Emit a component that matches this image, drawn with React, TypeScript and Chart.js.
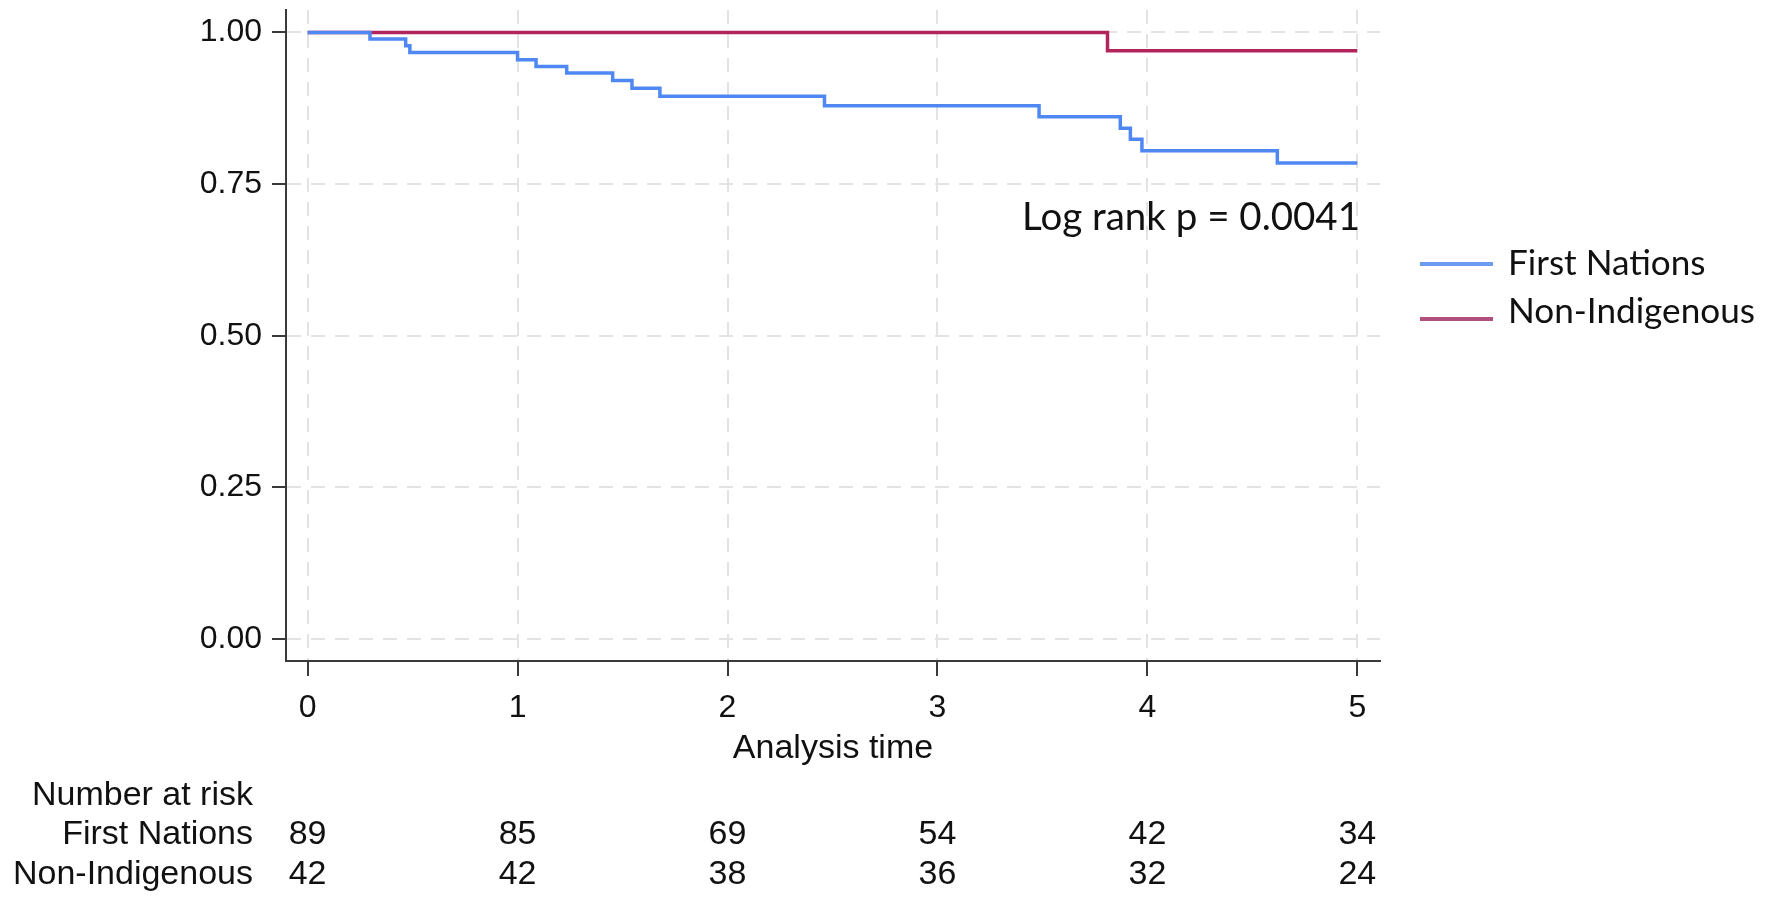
import React, { useEffect, useRef } from "react";
import { Chart, registerables } from "chart.js";

Chart.register(...registerables);

const SERIES_NAMES = ["First Nations", "Non-Indigenous"];
const SERIES_COLORS = ["#4f88f2", "#b2245c"];
const LEGEND_COLORS = ["#6b9cf2", "#b24f7c"];

const FN_TIMES = [0, 0.297, 0.467, 0.487, 1.0, 1.088, 1.234, 1.453, 1.545, 1.678, 2.462, 3.484, 3.871, 3.919, 3.974, 4.619, 5.0];
const FN_SURV = [1.0, 0.989, 0.978, 0.967, 0.955, 0.944, 0.933, 0.921, 0.908, 0.895, 0.879, 0.861, 0.842, 0.824, 0.805, 0.785, 0.785];
const NI_TIMES = [0, 3.81, 5.0];
const NI_SURV = [1.0, 0.97, 0.97];

const X_TICKS = [0, 1, 2, 3, 4, 5];
const Y_TICKS = [0, 0.25, 0.5, 0.75, 1.0];

const RISK_TITLE = "Number at risk";
const RISK_FN = [89, 85, 69, 54, 42, 34];
const RISK_NI = [42, 42, 38, 36, 32, 24];

const X_TITLE = "Analysis time";
const ANNOTATION = "Log rank p = 0.0041";

const ARIAL = '"Liberation Sans", Arial, Helvetica, sans-serif';
const CALIBRI = 'Lato, "Open Sans", "Noto Sans", sans-serif';

function fitFont(ctx: CanvasRenderingContext2D, text: string, width: number, family: string) {
  ctx.font = `100px ${family}`;
  const w = ctx.measureText(text).width;
  return (100 * width) / w;
}

const overlayPlugin = {
  id: "overlay",
  afterDraw(chart: any) {
    const ctx: CanvasRenderingContext2D = chart.ctx;
    const xs = chart.scales.x;
    ctx.save();
    ctx.fillStyle = "#111";
    ctx.textBaseline = "alphabetic";

    // number at risk table
    ctx.font = `34px ${ARIAL}`;
    ctx.textAlign = "right";
    ctx.fillText(RISK_TITLE, 253, 805);
    ctx.fillText(SERIES_NAMES[0], 253, 844);
    ctx.fillText(SERIES_NAMES[1], 253, 884);
    ctx.textAlign = "center";
    X_TICKS.forEach((t, i) => {
      const px = xs.getPixelForValue(t);
      ctx.fillText(String(RISK_FN[i]), px, 844);
      ctx.fillText(String(RISK_NI[i]), px, 884);
    });

    // log-rank annotation
    const annSize = fitFont(ctx, ANNOTATION, 338, CALIBRI);
    ctx.font = `${annSize}px ${CALIBRI}`;
    ctx.textAlign = "right";
    ctx.fillText(ANNOTATION, 1360, 230);

    // legend
    const legSize = fitFont(ctx, SERIES_NAMES[1], 247, CALIBRI);
    ctx.font = `${legSize}px ${CALIBRI}`;
    ctx.textAlign = "left";
    const lineYs = [264, 319];
    const textYs = [275, 323];
    chart.data.datasets.forEach((ds: any, i: number) => {
      ctx.strokeStyle = LEGEND_COLORS[i];
      ctx.lineWidth = 4;
      ctx.beginPath();
      ctx.moveTo(1420, lineYs[i]);
      ctx.lineTo(1493, lineYs[i]);
      ctx.stroke();
      ctx.fillText(ds.label, 1508, textYs[i]);
    });
    ctx.restore();
  },
};

export default function App() {
  const canvasRef = useRef<HTMLCanvasElement | null>(null);

  useEffect(() => {
    if (!canvasRef.current) return;
    const chart = new Chart(canvasRef.current, {
      type: "line",
      data: {
        datasets: [
          {
            label: SERIES_NAMES[0],
            data: FN_TIMES.map((t, i) => ({ x: t, y: FN_SURV[i] })),
            borderColor: SERIES_COLORS[0],
            borderWidth: 3.5,
            stepped: true,
            pointRadius: 0,
            fill: false,
          },
          {
            label: SERIES_NAMES[1],
            data: NI_TIMES.map((t, i) => ({ x: t, y: NI_SURV[i] })),
            borderColor: SERIES_COLORS[1],
            borderWidth: 3.5,
            stepped: true,
            pointRadius: 0,
            fill: false,
          },
        ],
      },
      options: {
        animation: false,
        responsive: true,
        maintainAspectRatio: false,
        layout: { padding: { left: 0, top: 10, right: 388, bottom: 0 } },
        plugins: { legend: { display: false }, tooltip: { enabled: false } },
        scales: {
          x: {
            type: "linear",
            min: -0.103,
            max: 5.108,
            afterBuildTicks: (s: any) => {
              s.ticks = X_TICKS.map((v) => ({ value: v }));
            },
            afterFit: (s: any) => {
              s.height = 245;
              s.paddingLeft = 0;
              s.paddingRight = 0;
            },
            grid: {
              color: "#e3e3e3",
              lineWidth: 2,
              tickLength: 15,
              tickColor: "#3a3a3a",
              tickWidth: 2,
              tickBorderDash: [],
            },
            border: { display: true, color: "#3a3a3a", width: 2, dash: [14, 10] },
            ticks: {
              font: { family: ARIAL, size: 32 },
              color: "#111",
              padding: 13,
              maxRotation: 0,
              callback: (v: any) => String(v),
            },
            title: {
              display: true,
              text: X_TITLE,
              font: { family: ARIAL, size: 34 },
              color: "#111",
              padding: { top: 0, bottom: 137 },
            },
          },
          y: {
            type: "linear",
            min: -0.036,
            max: 1.037,
            afterBuildTicks: (s: any) => {
              s.ticks = Y_TICKS.map((v) => ({ value: v }));
            },
            afterFit: (s: any) => {
              s.width = 286;
              s.paddingTop = 0;
              s.paddingBottom = 0;
            },
            grid: {
              color: "#e3e3e3",
              lineWidth: 2,
              tickLength: 14,
              tickColor: "#3a3a3a",
              tickWidth: 2,
              tickBorderDash: [],
            },
            border: { display: true, color: "#3a3a3a", width: 2, dash: [14, 10] },
            ticks: {
              font: { family: ARIAL, size: 32 },
              color: "#111",
              padding: 10,
              callback: (v: any) => Number(v).toFixed(2),
            },
          },
        },
      },
      plugins: [overlayPlugin],
    } as any);
    return () => chart.destroy();
  }, []);

  return (
    <div style={{ position: "absolute", left: 0, top: 0, width: 1768, height: 906, background: "#fff" }}>
      <canvas ref={canvasRef} />
    </div>
  );
}
